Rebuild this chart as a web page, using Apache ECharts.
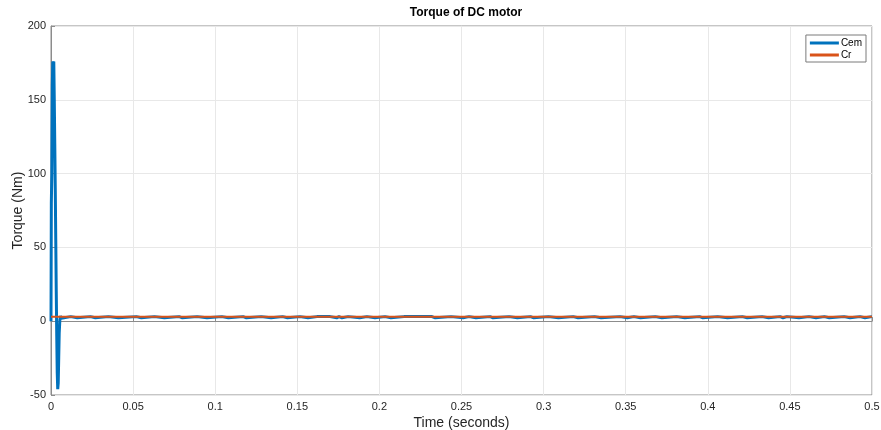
<!DOCTYPE html>
<html>
<head>
<meta charset="utf-8">
<title>Torque of DC motor</title>
<script src="https://cdn.jsdelivr.net/npm/echarts@6/dist/echarts.min.js"></script>
<style>
  html, body { margin: 0; padding: 0; background: #fff; }
  #chart { width: 881px; height: 430px; }
</style>
</head>
<body>
<div id="chart"></div>
<script>
// Start-up transient of the electromagnetic torque (time in s, torque in Nm)
const transientTime = [0, 0.0002, 0.0005, 0.0008, 0.0011, 0.0014, 0.0017, 0.002, 0.0023, 0.0026, 0.0029, 0.0032, 0.0035, 0.0038, 0.0041, 0.0044, 0.0047, 0.005, 0.0054, 0.0058, 0.0063, 0.007];
const transientCem  = [0, 80, 100, 160, 176, 174, 176, 150, 120, 90, 55, 20, -10, -35, -46, -42, -25, -8, 1, 3.5, 2, 3.1];

// Steady-state torque level and the short ripple dips below it
const cemSteady = 3.1;
const cemDip = 2.3;
const dipStart = [0.012, 0.024, 0.035, 0.052, 0.063, 0.078, 0.089, 0.104, 0.117, 0.128, 0.141, 0.1516, 0.162, 0.170, 0.1754, 0.181, 0.1924, 0.2034, 0.215, 0.2235, 0.232, 0.2436, 0.2546, 0.2674, 0.279, 0.292, 0.303, 0.318, 0.331, 0.3465, 0.355, 0.368, 0.381, 0.395, 0.406, 0.421, 0.433, 0.444, 0.4482, 0.4616, 0.471, 0.483, 0.4927];
const dipEnd   = [0.016, 0.027, 0.041, 0.055, 0.069, 0.080, 0.095, 0.108, 0.119, 0.134, 0.144, 0.1565, 0.163, 0.174, 0.1772, 0.188, 0.1973, 0.207, 0.216, 0.2247, 0.234, 0.251, 0.2588, 0.2692, 0.284, 0.294, 0.309, 0.321, 0.335, 0.351, 0.359, 0.372, 0.386, 0.397, 0.412, 0.424, 0.437, 0.4458, 0.4555, 0.4659, 0.474, 0.4866, 0.4957];
const tEnd = 0.5;

// Load torque
const crTime = [0, 0.5];
const crValue = [3, 3];

// Axis ticks
const xTicks = { min: 0, max: 0.5, step: 0.05 };
const yTicks = { min: -50, max: 200, step: 50 };

const cemData = transientTime.map((t, i) => [t, transientCem[i]]);
dipStart.forEach((a, i) => {
  const b = dipEnd[i];
  cemData.push([a, cemSteady], [a, cemDip], [b, cemDip], [b, cemSteady]);
});
cemData.push([tEnd, cemSteady]);
const crData = crTime.map((t, i) => [t, crValue[i]]);

const font = 'Liberation Sans, Arial, Helvetica, sans-serif';
const chart = echarts.init(document.getElementById('chart'), null, { renderer: 'canvas' });
chart.setOption({
  animation: false,
  backgroundColor: '#ffffff',
  title: {
    text: 'Torque of DC motor',
    left: 461, textAlign: 'center', top: 2,
    textStyle: { fontFamily: font, fontSize: 12, fontWeight: 'bold', color: '#000' }
  },
  grid: {
    left: 51, right: 9, top: 26, bottom: 35,
    outerBoundsMode: 'none', containLabel: false,
    show: true, borderColor: '#8c8c8c', borderWidth: 1, backgroundColor: '#fff'
  },
  legend: {
    orient: 'vertical', right: 15, top: 35,
    backgroundColor: '#fff', borderColor: '#7a7a7a', borderWidth: 1,
    padding: [3, 4, 2, 4], itemGap: 2,
    itemWidth: 29, itemHeight: 3,
    textStyle: { fontFamily: font, fontSize: 10, color: '#000', padding: [0, 0, 0, -3] },
    data: [{ name: 'Cem', icon: 'rect' }, { name: 'Cr', icon: 'rect' }]
  },
  xAxis: {
    type: 'value', min: xTicks.min, max: xTicks.max, interval: xTicks.step,
    name: 'Time (seconds)', nameLocation: 'middle', nameGap: 21, nameMoveOverlap: false,
    nameTextStyle: { fontFamily: font, fontSize: 14, color: '#262626' },
    axisLine: { show: true, lineStyle: { color: '#8c8c8c', width: 1 } },
    axisTick: { show: true, inside: true, length: 4, lineStyle: { color: '#8c8c8c' } },
    axisLabel: { fontFamily: font, fontSize: 11, color: '#262626', margin: 6 },
    splitLine: { show: true, lineStyle: { color: '#e8e8e8', width: 1 } }
  },
  yAxis: {
    type: 'value', min: yTicks.min, max: yTicks.max, interval: yTicks.step,
    name: 'Torque (Nm)', nameLocation: 'middle', nameGap: 26, nameRotate: 90, nameMoveOverlap: false,
    nameTextStyle: { fontFamily: font, fontSize: 14, color: '#262626' },
    axisLine: { show: true, lineStyle: { color: '#8c8c8c', width: 1 } },
    axisTick: { show: true, inside: true, length: 4, lineStyle: { color: '#8c8c8c' } },
    axisLabel: { fontFamily: font, fontSize: 11, color: '#262626', margin: 5 },
    splitLine: { show: true, lineStyle: { color: '#e8e8e8', width: 1 } }
  },
  series: [
    {
      name: 'Cem', type: 'line', data: cemData, showSymbol: false, clip: true,
      lineStyle: { color: '#0072BD', width: 3 }, itemStyle: { color: '#0072BD' }
    },
    {
      name: 'Cr', type: 'line', data: crData, showSymbol: false, clip: true,
      lineStyle: { color: '#D95319', width: 2 }, itemStyle: { color: '#D95319' }
    }
  ]
});
</script>
</body>
</html>
